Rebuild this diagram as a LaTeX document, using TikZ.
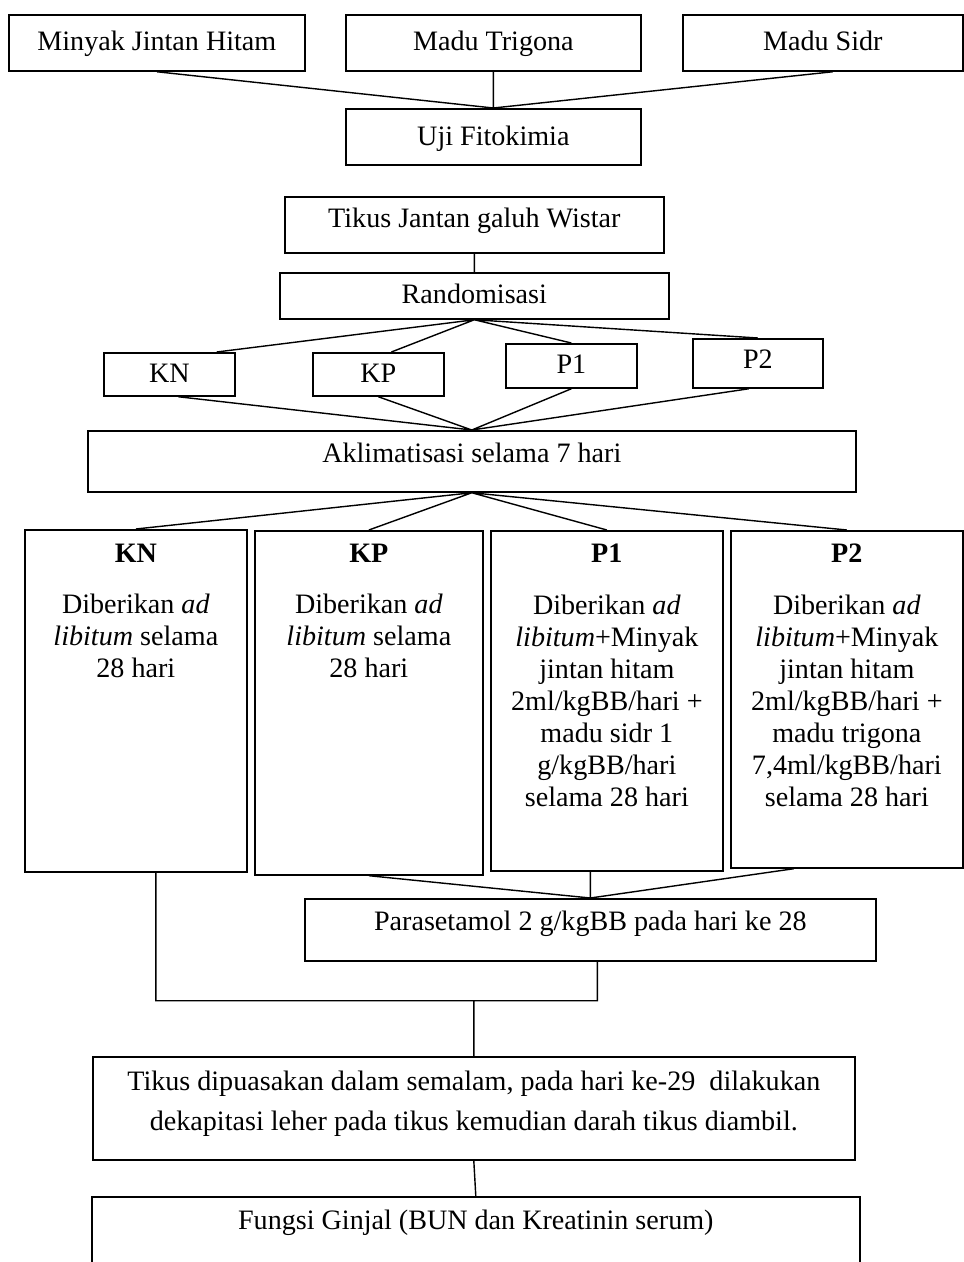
\documentclass[tikz,border=0pt]{standalone}
\usepackage{fontspec}
\setmainfont{Liberation Serif}
\usetikzlibrary{calc}

\tikzset{
  kotak/.style={draw, line width=1pt, anchor=north west, inner xsep=0pt,
    inner ysep=0pt, align=center, font=\fontsize{16}{18.2}\selectfont},
  garis/.style={line width=0.8pt},
}

\begin{document}
\begin{tikzpicture}[x=0.02cm, y=-0.02cm]
  \useasboundingbox (0,0) rectangle (964,1262);
  % bahan uji
  \node[kotak, minimum width=5.92cm, text height=0.72cm, text depth=0.40cm] (minyak) at (8,14) {Minyak Jintan Hitam};
  \node[kotak, minimum width=5.90cm, text height=0.72cm, text depth=0.40cm] (trigona) at (345,14) {Madu Trigona};
  \node[kotak, minimum width=5.60cm, text height=0.72cm, text depth=0.40cm] (sidr) at (682,14) {Madu Sidr};
  \node[kotak, minimum width=5.90cm, text height=0.74cm, text depth=0.38cm] (uji) at (345,108) {Uji Fitokimia};
  % hewan uji
  \node[kotak, minimum width=7.58cm, text height=0.62cm, text depth=0.50cm] (tikus) at (284,196) {Tikus Jantan galuh Wistar};
  \node[kotak, minimum width=7.78cm, text height=0.62cm, text depth=0.30cm] (random) at (279,272) {Randomisasi};
  \node[kotak, minimum width=2.62cm, text height=0.60cm, text depth=0.26cm] (kn) at (103,352) {KN};
  \node[kotak, minimum width=2.62cm, text height=0.60cm, text depth=0.26cm] (kp) at (312,352) {KP};
  \node[kotak, minimum width=2.62cm, text height=0.60cm, text depth=0.28cm] (p1) at (505,343) {P1};
  \node[kotak, minimum width=2.60cm, text height=0.60cm, text depth=0.38cm] (p2) at (692,338) {P2};
  \node[kotak, minimum width=15.36cm, text height=0.64cm, text depth=0.58cm] (akl) at (87,430) {Aklimatisasi selama 7 hari};
  % perlakuan
  \node[kotak, minimum width=4.44cm, text height=2.96cm, text depth=3.88cm] (knb) at (24,529)
    {\textbf{KN}\\[11.3pt] Diberikan \textit{ad}\\ \textit{libitum} selama\\ 28 hari};
  \node[kotak, minimum width=4.56cm, text height=2.94cm, text depth=3.94cm] (kpb) at (254,530)
    {\textbf{KP}\\[11.3pt] Diberikan \textit{ad}\\ \textit{libitum} selama\\ 28 hari};
  \node[kotak, minimum width=4.64cm, text height=5.51cm, text depth=1.29cm] (p1b) at (490,530)
    {\textbf{P1}\\[11.3pt] Diberikan \textit{ad}\\ \textit{libitum}+Minyak\\ jintan hitam\\ 2ml/kgBB/hari +\\ madu sidr 1\\ g/kgBB/hari\\ selama 28 hari};
  \node[kotak, minimum width=4.64cm, text height=5.51cm, text depth=1.23cm] (p2b) at (730,530)
    {\textbf{P2}\\[11.3pt] Diberikan \textit{ad}\\ \textit{libitum}+Minyak\\ jintan hitam\\ 2ml/kgBB/hari +\\ madu trigona\\ 7,4ml/kgBB/hari\\ selama 28 hari};
  \node[kotak, minimum width=11.42cm, text height=0.64cm, text depth=0.60cm] (para) at (304,898) {Parasetamol 2 g/kgBB pada hari ke 28};
  \node[kotak, minimum width=15.24cm, text height=1.48cm, text depth=0.58cm, font=\fontsize{16}{23.2}\selectfont] (puasa) at (92,1056)
    {Tikus dipuasakan dalam semalam, pada hari ke-29~ dilakukan\\ dekapitasi leher pada tikus kemudian darah tikus diambil.};
  \node[kotak, minimum width=15.36cm, text height=0.66cm, text depth=1.34cm] (fungsi) at (91,1196) {Fungsi Ginjal (BUN dan Kreatinin serum)};

  \coordinate (bawah) at ($(para.south)+(7,39)$);
  \draw[garis]
  (minyak.south) -- (uji.north)
  (trigona.south) -- (uji.north)
  ($(sidr.south)+(10,0)$) -- (uji.north)
  (tikus.south) -- (random.north)
  (random.south) -- ($(kn.north east)+(-19,0)$)
  (random.south) -- ($(kp.north)+(13,0)$)
  (random.south) -- (p1.north)
  (random.south) -- (p2.north)
  ($(kn.south)+(9,0)$) -- (akl.north)
  (kp.south) -- (akl.north)
  (p1.south) -- (akl.north)
  ($(p2.south)+(-9,0)$) -- (akl.north)
  (akl.south) -- (knb.north)
  (akl.south) -- (kpb.north)
  (akl.south) -- (p1b.north)
  (akl.south) -- (p2b.north)
  (kpb.south) -- (para.north)
  (para.north |- p1b.south) -- (para.north)
  ($(p2b.south)+(-53,0)$) -- (para.north)
  ($(knb.south)+(20,0)$) |- (bawah) -- ($(para.south)+(7,0)$)
  (bawah -| puasa.north) -- (puasa.north)
  (puasa.south) -- (fungsi.north);
\end{tikzpicture}
\end{document}
